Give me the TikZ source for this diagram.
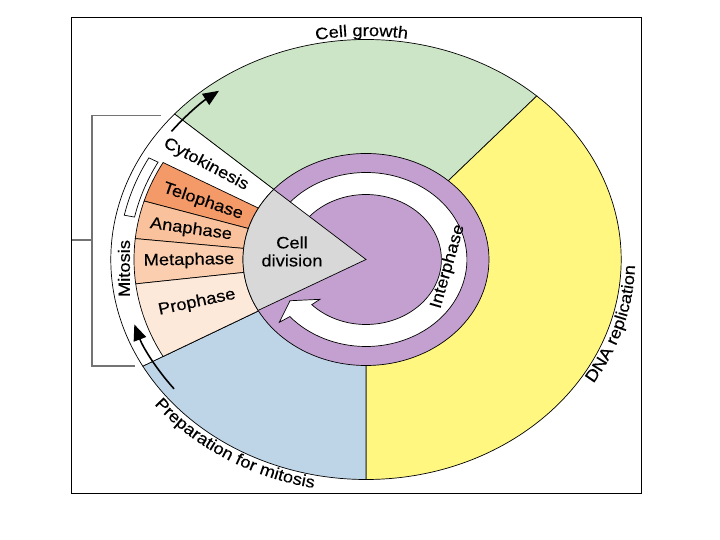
\documentclass[tikz,border=0pt]{standalone}
\usepackage{fontspec}
\setmainfont{Liberation Sans}[FakeStretch=1.11,FakeBold=0.3]
\usepackage{tikz}
\usepackage{xcolor}
\usetikzlibrary{arrows.meta,decorations.text}

\definecolor{growthgreen}{RGB}{205,229,199}
\definecolor{dnayellow}{RGB}{255,247,128}
\definecolor{prepblue}{RGB}{190,213,231}
\definecolor{interpurple}{RGB}{195,160,207}
\definecolor{divgray}{RGB}{216,216,216}
\definecolor{telocol}{RGB}{244,153,104}
\definecolor{anacol}{RGB}{249,194,156}
\definecolor{metacol}{RGB}{250,206,174}
\definecolor{procol}{RGB}{253,233,218}

\newcommand{\lbl}{\fontsize{16.5}{18}\selectfont}

\begin{document}
\begin{tikzpicture}[x=1pt,y=1pt,
        edge/.style={draw=black,line width=0.7pt},
        phase/.style={font=\lbl,inner sep=1pt},
        flow/.style={line width=1.6pt,-{Triangle[length=16pt,width=13pt]}},
        brace/.style={draw=black!55,line width=1.3pt}]
        \useasboundingbox (-366,-280.5) rectangle (354,259.5);

        % frame
        \draw[line width=1pt] (-294,241.5) rectangle (275,-233.5);

        % outer ring
        \filldraw[edge,fill=growthgreen] (0,0) -- (48:255.2pt and 220pt) arc[start angle=48,end angle=138.6,x radius=255.2pt,y radius=220pt] -- cycle;
        \filldraw[edge,fill=dnayellow] (0,0) -- (-90:255.2pt and 220pt) arc[start angle=-90,end angle=48,x radius=255.2pt,y radius=220pt] -- cycle;
        \filldraw[edge,fill=prepblue] (0,0) -- (209:255.2pt and 220pt) arc[start angle=209,end angle=270,x radius=255.2pt,y radius=220pt] -- cycle;
        \filldraw[edge,fill=white] (0,0) -- (138.6:255.2pt and 220pt) arc[start angle=138.6,end angle=209,x radius=255.2pt,y radius=220pt] -- cycle;

        % mitosis phases
        \filldraw[edge,fill=telocol] (0,0) -- (151:232pt and 200pt) arc[start angle=151,end angle=163,x radius=232pt,y radius=200pt] -- cycle;
        \filldraw[edge,fill=anacol] (0,0) -- (163:232pt and 200pt) arc[start angle=163,end angle=174,x radius=232pt,y radius=200pt] -- cycle;
        \filldraw[edge,fill=metacol] (0,0) -- (174:232pt and 200pt) arc[start angle=174,end angle=187,x radius=232pt,y radius=200pt] -- cycle;
        \filldraw[edge,fill=procol] (0,0) -- (187:232pt and 200pt) arc[start angle=187,end angle=209,x radius=232pt,y radius=200pt] -- cycle;
        \filldraw[edge,fill=white] (151.5:236.6pt and 204pt) arc[start angle=151.5,end angle=168,x radius=236.6pt,y radius=204pt]
            -- (168:247.1pt and 213pt) arc[start angle=168,end angle=151.5,x radius=247.1pt,y radius=213pt] -- cycle;

        % interphase disc and its arrow
        \filldraw[edge,fill=interpurple] (0,0) ellipse[x radius=123pt,y radius=106pt];
        \filldraw[edge,fill=white] (150:100.9pt and 87pt) arc[start angle=150,end angle=-139,x radius=100.9pt,y radius=87pt]
            -- (-139.95:113.2pt and 97.6pt) -- (-147.8:89.8pt and 77.4pt) -- (-134.9:65.2pt and 56.2pt)
            -- (-136:75.4pt and 65pt) arc[start angle=-136,end angle=150,x radius=75.4pt,y radius=65pt] -- cycle;

        % cell division wedge
        \filldraw[edge,fill=divgray] (0,0) -- (138.6:123pt and 106pt) arc[start angle=138.6,end angle=208.7,x radius=123pt,y radius=106pt] -- cycle;
        \node[phase,align=center] (division) at (-74,8) {Cell\\division};

        % labels
        \node[phase,rotate=-28] (cyto) at (-160,95) {Cytokinesis};
        \node[phase,rotate=-19] (telo) at (-163,58) {Telophase};
        \node[phase,rotate=-8] (ana) at (-175,30) {Anaphase};
        \node[phase,rotate=1] (meta) at (-177,-1) {Metaphase};
        \node[phase,rotate=12] (pro) at (-169,-43) {Prophase};
        \node[phase,rotate=90] (mitosis) at (-242,-9) {Mitosis};
        \node[phase,rotate=74] (inter) at (82,-7) {Interphase};

        \path[decorate,decoration={text along path,text align=center,text={|\lbl|Cell growth}}]
            (125:259.3pt and 223.5pt) arc[start angle=125,end angle=57,x radius=259.3pt,y radius=223.5pt];
        \path[decorate,decoration={text along path,text align=center,text={|\lbl|DNA replication}}]
            (-45:269.1pt and 232pt) arc[start angle=-45,end angle=12,x radius=269.1pt,y radius=232pt];
        \path[decorate,decoration={text along path,text align=center,text={|\lbl|Preparation for mitosis}}]
            (205:270.3pt and 233pt) arc[start angle=205,end angle=271,x radius=270.3pt,y radius=233pt];

        % direction arrows
        \draw[flow] (142.6:244.8pt and 211pt) arc[start angle=142.6,end angle=126.9,x radius=244.8pt,y radius=211pt];
        \draw[flow] (218:243.6pt and 210pt) arc[start angle=218,end angle=198,x radius=243.6pt,y radius=210pt];

        % mitosis bracket
        \draw[brace] (-205,144) -- (-274,144) -- (-274,-106.5) -- (-231,-106.5);
        \draw[brace] (-294,19.5) -- (-274,19.5);
    \end{tikzpicture}
\end{document}
